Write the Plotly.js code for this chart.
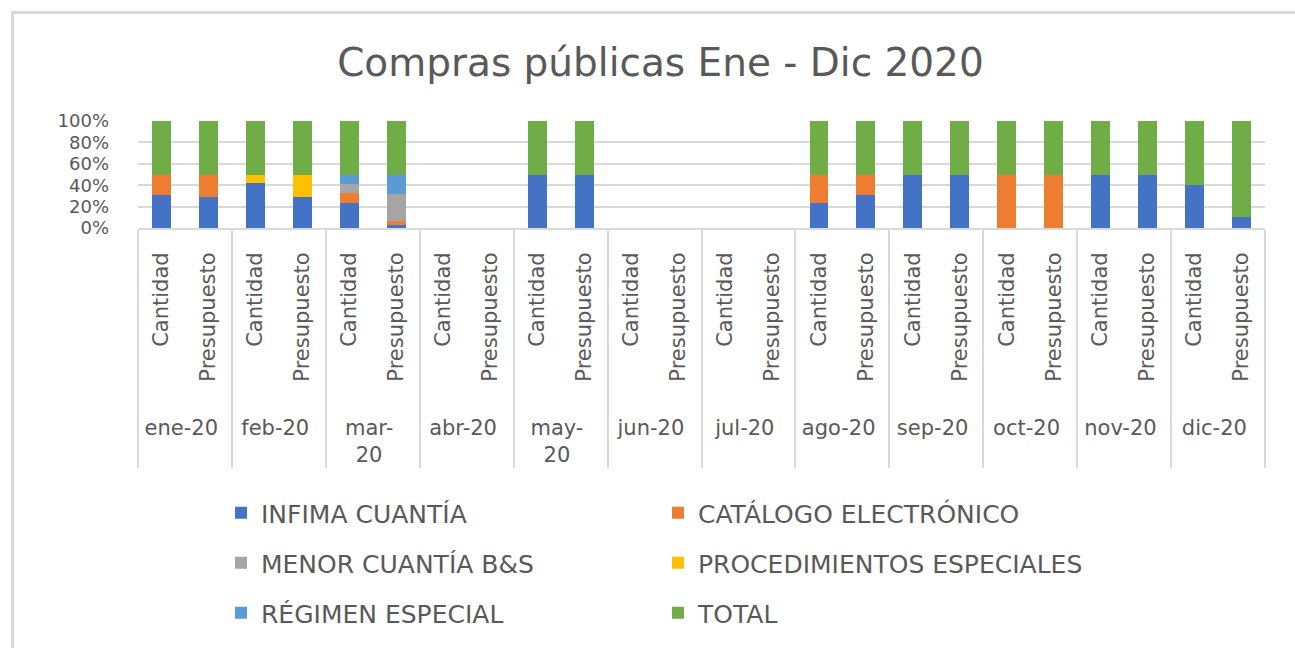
<!DOCTYPE html>
<html>
<head>
<meta charset="utf-8">
<script src="https://cdn.plot.ly/plotly-3.0.1.min.js"></script>
<style>
html,body{margin:0;padding:0;background:#fff;overflow:hidden;}
#chart{width:1295px;height:648px;}
#frame{position:absolute;left:11px;top:11px;width:1300px;height:700px;border-top:3px solid #d9d9d9;border-left:3px solid #d9d9d9;pointer-events:none;}
</style>
</head>
<body>
<div id="chart"></div>
<div id="frame"></div>
<script>
const months = ["ene-20","feb-20","mar-<br>20","abr-20","may-<br>20","jun-20","jul-20","ago-20","sep-20","oct-20","nov-20","dic-20"];
const subs = ["Cantidad","Presupuesto"];

// values in % per bar (Cantidad, Presupuesto) for each month
const infima      = [30.5,29, 42,29, 23.5,2.5, 0,0, 50,50, 0,0, 0,0, 23.5,30.5, 50,50, 0,0, 50,50, 40,10.5];
const catalogo    = [19.5,21, 0,0,   9.4,3.8,  0,0, 0,0,   0,0, 0,0, 26.5,19.5, 0,0,   50,50, 0,0, 0,0];
const menor       = [0,0,     0,0,   8.5,25.4, 0,0, 0,0,   0,0, 0,0, 0,0,       0,0,   0,0,   0,0, 0,0];
const procedim    = [0,0,     8,21,  0,0,      0,0, 0,0,   0,0, 0,0, 0,0,       0,0,   0,0,   0,0, 0,0];
const regimen     = [0,0,     0,0,   8.6,18.3, 0,0, 0,0,   0,0, 0,0, 0,0,       0,0,   0,0,   0,0, 0,0];
const total       = [50,50,   50,50, 50,50,    0,0, 50,50, 0,0, 0,0, 50,50,     50,50, 50,50, 50,50, 60,89.5];

const seriesNames = ["INFIMA CUANTÍA","CATÁLOGO ELECTRÓNICO","MENOR CUANTÍA B&S","PROCEDIMIENTOS ESPECIALES","RÉGIMEN ESPECIAL","TOTAL"];
const seriesVals = [infima, catalogo, menor, procedim, regimen, total];
const colors = ["#4472C4","#ED7D31","#A5A5A5","#FFC000","#5B9BD5","#70AD47"];
const legendCol = ["legend","legend2","legend","legend2","legend","legend2"];

const xOuter = [], xInner = [];
// a leading blank line pushes the month labels down, as in the reference
months.forEach(m => subs.forEach(s => { xOuter.push("<br>" + m); xInner.push(s); }));

const traces = seriesNames.map((n, i) => ({
  type: "bar",
  name: n,
  x: [xOuter, xInner],
  y: seriesVals[i],
  legend: legendCol[i],
  legendgroup: "g" + i,
  marker: {color: colors[i], line: {width: 0}},
  hoverinfo: "name+y"
}));

const FONT = "DejaVu Sans, sans-serif";
const legendCommon = {
  orientation: "v",
  xref: "container", yref: "container",
  xanchor: "left", yanchor: "top",
  y: 1 - 490 / 648,
  traceorder: "grouped",
  tracegroupgap: 14.5,
  font: {size: 25, color: "#595959", family: FONT},
  bgcolor: "rgba(0,0,0,0)"
};

const layout = {
  width: 1295, height: 648,
  margin: {l: 138, r: 30, t: 121, b: 420, autoexpand: false},
  paper_bgcolor: "#fff", plot_bgcolor: "#fff",
  barmode: "stack",
  bargap: 0.6,
  font: {family: FONT, color: "#595959"},
  title: {text: "Compras públicas Ene - Dic 2020", font: {size: 39, color: "#595959", family: FONT},
          xref: "container", x: 0.51, xanchor: "center", yref: "container", y: 1 - 62 / 648, yanchor: "middle"},
  xaxis: {
    type: "multicategory",
    tickangle: -90,
    tickfont: {size: 21, color: "#595959"},
    ticklabelstandoff: 14,
    showdividers: true, dividercolor: "#d9d9d9", dividerwidth: 2,
    showline: true, linecolor: "#d9d9d9", linewidth: 2,
    ticks: "", showgrid: false
  },
  yaxis: {
    range: [0, 100], dtick: 20, ticksuffix: "%",
    tickfont: {size: 18, color: "#595959"},
    ticklabelstandoff: 28,
    gridcolor: "#d9d9d9", gridwidth: 2,
    zeroline: false, showline: false, fixedrange: true
  },
  showlegend: true,
  legend: Object.assign({}, legendCommon, {x: 221 / 1295}),
  legend2: Object.assign({}, legendCommon, {x: 658 / 1295})
};

Plotly.newPlot("chart", traces, layout, {displayModeBar: false, staticPlot: true});
</script>
</body>
</html>
